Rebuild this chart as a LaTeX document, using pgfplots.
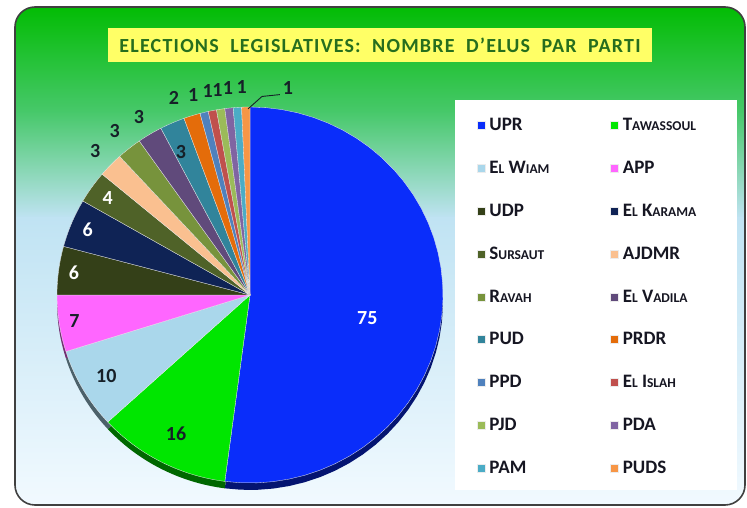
\documentclass[border=0pt]{standalone}
\usepackage{pgfplots}
\pgfplotsset{compat=1.18}
\usepackage{pgfplotstable}
\usepackage{fontspec}
\setmainfont{Carlito}

\definecolor{cUPR}{RGB}{10,45,250}
\definecolor{cTaw}{RGB}{0,230,0}
\definecolor{cWiam}{RGB}{170,215,235}
\definecolor{cAPP}{RGB}{255,102,255}
\definecolor{cUDP}{RGB}{52,64,24}
\definecolor{cKar}{RGB}{15,35,85}
\definecolor{cSur}{RGB}{79,98,40}
\definecolor{cAJD}{RGB}{250,192,144}
\definecolor{cRav}{RGB}{119,147,60}
\definecolor{cVad}{RGB}{96,74,123}
\definecolor{cPUD}{RGB}{49,132,155}
\definecolor{cPRDR}{RGB}{228,108,10}
\definecolor{cPPD}{RGB}{79,129,189}
\definecolor{cIsl}{RGB}{192,80,77}
\definecolor{cPJD}{RGB}{155,187,89}
\definecolor{cPDA}{RGB}{128,100,162}
\definecolor{cPAM}{RGB}{75,172,198}
\definecolor{cPUDS}{RGB}{247,150,70}
\definecolor{labdark}{RGB}{22,32,40}
\definecolor{legtext}{RGB}{22,22,34}
\definecolor{bgtop}{RGB}{0,188,0}
\definecolor{bgmid}{RGB}{192,227,243}
\definecolor{bgbot}{RGB}{242,250,255}
\definecolor{titlegreen}{RGB}{38,110,30}
\definecolor{titleyellow}{RGB}{255,255,102}

% value, colour, label radius, label angle shift, label colour
\pgfplotstableread[col sep=comma]{
value,col,lr,la,lc
75,cUPR,0.62,-7.5,white
16,cTaw,0.83,0,labdark
10,cWiam,0.86,0,labdark
7,cAPP,0.92,0,labdark
6,cUDP,0.92,0,white
6,cKar,0.91,0,white
4,cSur,0.90,0,white
3,cAJD,1.11,0,labdark
3,cRav,1.12,0,labdark
3,cVad,1.11,0,labdark
3,cPUD,0.84,1.5,labdark
2,cPRDR,1.12,3.1,labdark
1,cPPD,1.105,1.7,labdark
1,cIsl,1.105,0.2,labdark
1,cPJD,1.105,0,labdark
1,cPDA,1.105,-0.3,labdark
1,cPAM,1.105,-1.5,labdark
1,cPUDS,1.105,0,labdark
}\pietable

\newcommand\sm[1]{{\fontsize{13.5}{13.5}\selectfont #1}}
\newcommand\legbox[1]{\makebox[119pt][l]{#1}}
\newcommand\labfont{\bfseries\fontsize{20}{20}\selectfont}

\begin{document}
\begin{tikzpicture}[x=1pt,y=1pt]
\useasboundingbox (0,0) rectangle (747,508);
% background frame
\begin{scope}
\clip[rounded corners=20pt] (15,3) rectangle (745,501);
\shade[top color=bgtop, bottom color=bgmid, middle color={rgb,255:red,70;green,200;blue,105}] (10,289.5) rectangle (750,505);
\shade[top color=bgmid, bottom color=bgbot] (10,0) rectangle (750,290);
\end{scope}
\draw[line width=1.6pt, black!75, rounded corners=20pt] (15,3) rectangle (745,501);
% title
\node[fill=titleyellow, text=titlegreen, font=\bfseries\fontsize{20}{20}\selectfont\addfontfeature{LetterSpace=6},
      minimum width=544pt, minimum height=34pt, inner sep=0pt] at (380,463)
      {ELECTIONS\ \ LEGISLATIVES:\ \ NOMBRE\ \ D'ELUS\ \ PAR\ \ PARTI};
% legend box
\fill[white] (455,18) rectangle (737,408);

% total
\def\total{0}
\pgfplotsforeachungrouped \i in {0,...,17}{%
  \pgfplotstablegetelem{\i}{value}\of\pietable
  \pgfmathsetmacro\total{\total+\pgfplotsretval}%
}

\begin{axis}[
  at={(57pt,25pt)}, anchor=south west,
  x=193pt, y=188pt,
  xmin=-1, xmax=1, ymin=-1, ymax=1,
  hide axis, clip=false,
  legend columns=2,
  legend image code/.code={\fill[#1] (0pt,-4pt) rectangle (8pt,4pt); \path (10pt,0pt);},
  legend style={at={(axis description cs:1.088,0.9755)}, anchor=north west,
    draw=none, fill=none, text=legtext,
    font=\bfseries\fontsize{19}{19}\selectfont,
    row sep=25pt, inner sep=0pt, nodes={inner sep=2pt},
    /tikz/every even column/.append style={column sep=0pt}},
]
% rim (3D thickness)
\def\cum{0}
\pgfplotsforeachungrouped \i in {0,...,17}{%
  \pgfplotstablegetelem{\i}{value}\of\pietable \let\val\pgfplotsretval
  \pgfplotstablegetelem{\i}{col}\of\pietable \let\mycol\pgfplotsretval
  \pgfmathsetmacro\aS{90-\cum/\total*360}%
  \pgfmathsetmacro\aE{90-(\cum+\val)/\total*360}%
  \edef\tmp{\noexpand\addplot[fill=\mycol!45!black, draw=none, domain=\aE:\aS, samples=40, forget plot]
    ({cos(x)},{sin(x)-0.037}) -- (axis cs:0,-0.037) -- cycle;}\tmp
  \pgfmathsetmacro\cum{\cum+\val}%
}
% top surface
\def\cum{0}
\pgfplotsforeachungrouped \i in {0,...,17}{%
  \pgfplotstablegetelem{\i}{value}\of\pietable \let\val\pgfplotsretval
  \pgfplotstablegetelem{\i}{col}\of\pietable \let\mycol\pgfplotsretval
  \pgfmathsetmacro\aS{90-\cum/\total*360}%
  \pgfmathsetmacro\aE{90-(\cum+\val)/\total*360}%
  \edef\tmp{\noexpand\addplot[fill=\mycol, draw=white!85!gray, line width=0.3pt, domain=\aE:\aS, samples=40]
    ({cos(x)},{sin(x)}) -- (axis cs:0,0) -- cycle;}\tmp
  \pgfmathsetmacro\cum{\cum+\val}%
}
% labels
\def\cum{0}
\pgfplotsforeachungrouped \i in {0,...,17}{%
  \pgfplotstablegetelem{\i}{value}\of\pietable \let\val\pgfplotsretval
  \pgfplotstablegetelem{\i}{lr}\of\pietable \let\lr\pgfplotsretval
  \pgfplotstablegetelem{\i}{la}\of\pietable \let\la\pgfplotsretval
  \pgfplotstablegetelem{\i}{lc}\of\pietable \let\lcol\pgfplotsretval
  \pgfmathsetmacro\am{90-(\cum+\val/2)/\total*360+\la}%
  \pgfmathsetmacro\lx{\lr*cos(\am)}%
  \pgfmathsetmacro\ly{\lr*sin(\am)}%
  \ifnum\i<17
    \edef\tmp{\noexpand\node[text=\lcol, font=\noexpand\labfont] at (axis cs:\lx,\ly) {\val};}\tmp
  \else
    \edef\tmp{\noexpand\node[text=\lcol, font=\noexpand\labfont] at (axis cs:0.197,1.10) {\val};}\tmp
  \fi
  \pgfmathsetmacro\cum{\cum+\val}%
}
\draw[labdark, line width=0.9pt] (axis cs:-0.01,0.99) -- (axis cs:0.062,1.056) -- (axis cs:0.155,1.066);
\legend{\legbox{UPR}, \legbox{T\sm{AWASSOUL}}, \legbox{E\sm{L} W\sm{IAM}}, \legbox{APP}, \legbox{UDP}, \legbox{E\sm{L} K\sm{ARAMA}},
  \legbox{S\sm{URSAUT}}, \legbox{AJDMR}, \legbox{R\sm{AVAH}}, \legbox{E\sm{L} V\sm{ADILA}}, \legbox{PUD}, \legbox{PRDR},
  \legbox{PPD}, \legbox{E\sm{L} I\sm{SLAH}}, \legbox{PJD}, \legbox{PDA}, \legbox{PAM}, \legbox{PUDS}}
\end{axis}
\end{tikzpicture}
\end{document}
